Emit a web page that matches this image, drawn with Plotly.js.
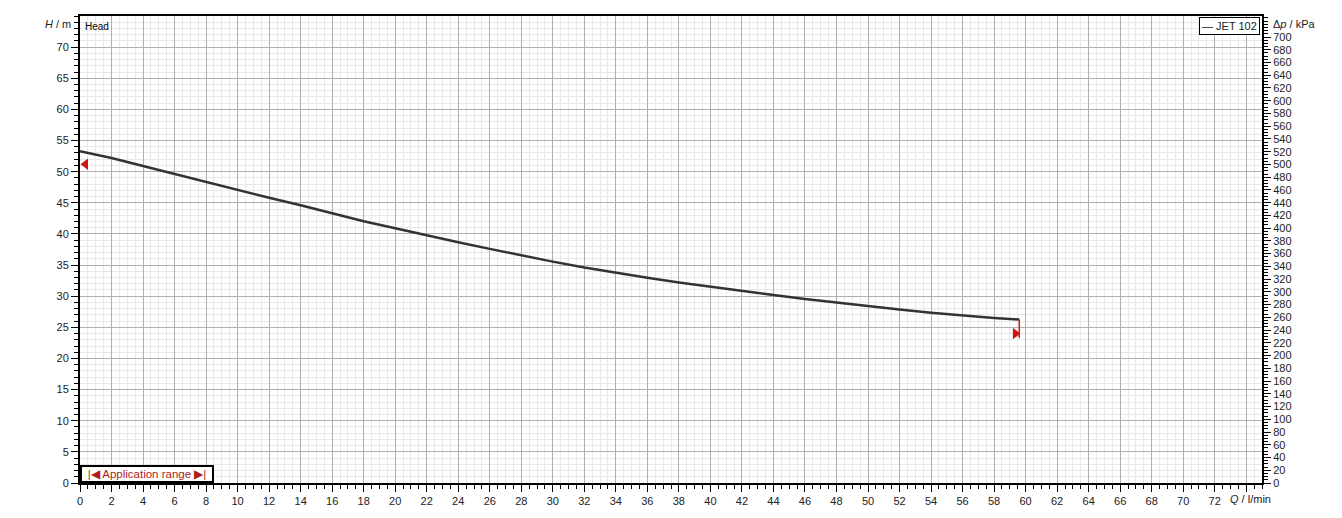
<!DOCTYPE html>
<html>
<head>
<meta charset="utf-8">
<script src="https://cdn.plot.ly/plotly-3.0.1.min.js"></script>
<style>
html,body{margin:0;padding:0;background:#fff;}
#chart{width:1342px;height:518px;}
</style>
</head>
<body>
<div id="chart"></div>
<script>
// Curve data: flow Q (l/min) vs head H (m)
var flowQ = [0, 2, 4, 6, 8, 10, 12, 14, 16, 18, 20, 22, 24, 26, 28, 30, 32, 34, 36, 38, 40, 42, 44, 46, 48, 50, 52, 54, 56, 58, 59.6];
var headH = [53.3, 52.2, 50.9, 49.6, 48.3, 47.0, 45.8, 44.6, 43.3, 42.05, 40.9, 39.75, 38.65, 37.6, 36.55, 35.55, 34.6, 33.75, 32.95, 32.2, 31.5, 30.85, 30.2, 29.55, 28.95, 28.4, 27.85, 27.35, 26.9, 26.5, 26.25];
var seriesName = "JET 102";

// Application range markers
var appStartQ = [0.35];
var appStartH = [51.2];
var appEndQ = [59.35];
var appEndH = [24.0];
var appEndLineQ = [59.6, 59.6];
var appEndLineH = [26.25, 23.3];

// Axis ticks
var xTickVals = [];
var xTickText = [];
for (var v = 0; v <= 74; v += 2) { xTickVals.push(v); xTickText.push(v <= 72 ? String(v) : ""); }
var yTickVals = [0, 5, 10, 15, 20, 25, 30, 35, 40, 45, 50, 55, 60, 65, 70];
var y2TickVals = [];
for (var p = 0; p <= 700; p += 20) { y2TickVals.push(p); }

var xMax = 75, yMax = 75, y2Max = 733;

var fontFam = "Liberation Sans, Arial, sans-serif";
var red = "#d01414";

var traces = [
  {x: flowQ, y: headH, mode: "lines", name: seriesName, line: {color: "#333333", width: 2.5}, showlegend: false, hoverinfo: "x+y"},
  {x: appEndLineQ, y: appEndLineH, mode: "lines", line: {color: red, width: 1.5}, showlegend: false, hoverinfo: "skip"},
  {x: appStartQ, y: appStartH, mode: "markers", marker: {symbol: "triangle-left", size: 10, color: red}, showlegend: false},
  {x: appEndQ, y: appEndH, mode: "markers", marker: {symbol: "triangle-right", size: 10, color: red}, showlegend: false},
  {x: [0], y: [0], yaxis: "y2", mode: "markers", marker: {opacity: 0}, showlegend: false, hoverinfo: "skip"}
];

var layout = {
  width: 1342, height: 518,
  margin: {l: 80, r: 80, t: 16, b: 35},
  paper_bgcolor: "#ffffff",
  plot_bgcolor: "#ffffff",
  font: {family: fontFam, size: 11, color: "#222"},
  showlegend: false,
  xaxis: {
    range: [0, xMax], tickmode: "array", tickvals: xTickVals, ticktext: xTickText,
    showgrid: true, gridcolor: "#b0b0b0", gridwidth: 1,
    showline: true, linecolor: "#000", linewidth: 2, mirror: true,
    ticks: "outside", ticklen: 7, tickcolor: "#000", tickwidth: 1,
    tickfont: {family: fontFam, size: 11, color: "#222"},
    zeroline: false,
    minor: {dtick: 0.5, tick0: 0, showgrid: true, gridcolor: "#e8e8e8", gridwidth: 1, ticks: "outside", ticklen: 4, tickcolor: "#000"}
  },
  yaxis: {
    range: [0, yMax], tickmode: "array", tickvals: yTickVals,
    showgrid: true, gridcolor: "#b0b0b0", gridwidth: 1,
    showline: true, linecolor: "#000", linewidth: 2,
    ticks: "outside", ticklen: 7, tickcolor: "#000", tickwidth: 1,
    tickfont: {family: fontFam, size: 11, color: "#222"},
    zeroline: false,
    minor: {dtick: 1, tick0: 0, showgrid: true, gridcolor: "#e8e8e8", gridwidth: 1, ticks: "outside", ticklen: 4, tickcolor: "#000"}
  },
  yaxis2: {
    range: [0, y2Max], overlaying: "y", side: "right", tickmode: "array", tickvals: y2TickVals,
    showgrid: false, zeroline: false,
    showline: true, linecolor: "#000", linewidth: 2,
    ticks: "outside", ticklen: 7, tickcolor: "#000", tickwidth: 1,
    tickfont: {family: fontFam, size: 11, color: "#222"},
    minor: {dtick: 5, tick0: 0, showgrid: false, ticks: "outside", ticklen: 4, tickcolor: "#000"}
  },
  annotations: [
    {xref: "paper", yref: "paper", x: 0, y: 1, xanchor: "right", yanchor: "middle", xshift: -7, yshift: -8,
     text: "<i>H</i> / m", showarrow: false, font: {family: fontFam, size: 11, color: "#222"}},
    {xref: "paper", yref: "paper", x: 1, y: 1, xanchor: "left", yanchor: "middle", xshift: 9, yshift: -8,
     text: "Δ<i>p</i> / kPa", showarrow: false, font: {family: fontFam, size: 11, color: "#222"}},
    {xref: "x", yref: "paper", x: 74.3, y: 0, xanchor: "center", yanchor: "top", yshift: -8,
     text: "<i>Q</i> / l/min", showarrow: false, font: {family: fontFam, size: 11, color: "#222"}},
    {xref: "paper", yref: "paper", x: 0, y: 1, xanchor: "left", yanchor: "top", xshift: 3, yshift: -3,
     text: "Head", showarrow: false, font: {family: fontFam, size: 10, color: "#000"}},
    {xref: "paper", yref: "paper", x: 1, y: 1, xanchor: "right", yanchor: "top", xshift: -2, yshift: -1,
     text: "— " + seriesName, showarrow: false, bgcolor: "#fff", bordercolor: "#000", borderwidth: 1, borderpad: 2,
     font: {family: fontFam, size: 11, color: "#222"}},
    {xref: "paper", yref: "paper", x: 0, y: 0, xanchor: "left", yanchor: "bottom", xshift: 0, yshift: 0,
     text: "|◀ Application range ▶|", showarrow: false, bgcolor: "#fff", bordercolor: "#000", borderwidth: 2, borderpad: 1,
     width: 128, font: {family: fontFam, size: 11.5, color: "#b01c1c"}}
  ]
};

Plotly.newPlot("chart", traces, layout, {displayModeBar: false, staticPlot: true});
</script>
</body>
</html>
